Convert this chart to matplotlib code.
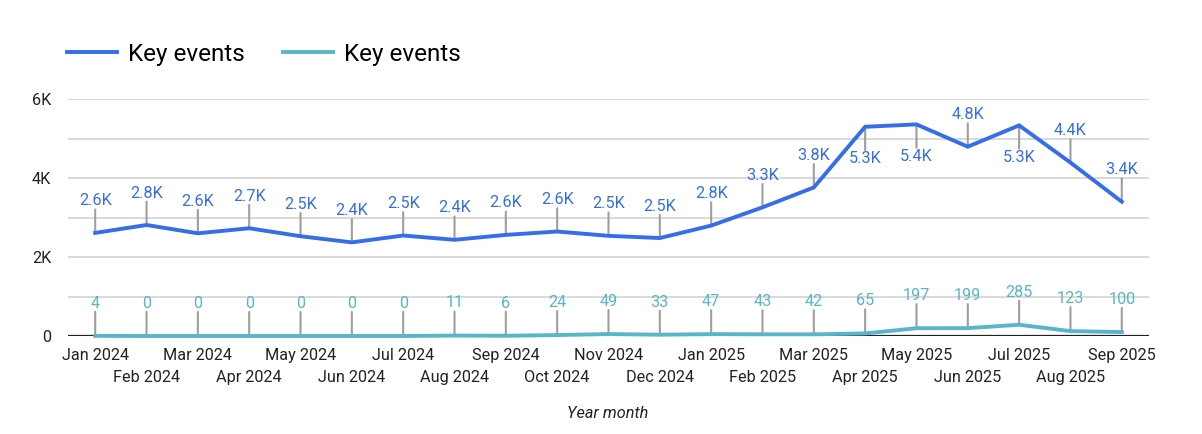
import matplotlib
matplotlib.use("Agg")
import matplotlib.pyplot as plt
from matplotlib.ticker import FixedLocator

plt.rcParams['font.family'] = ['Roboto', 'DejaVu Sans']

months = ["Jan 2024", "Feb 2024", "Mar 2024", "Apr 2024", "May 2024", "Jun 2024",
          "Jul 2024", "Aug 2024", "Sep 2024", "Oct 2024", "Nov 2024", "Dec 2024",
          "Jan 2025", "Feb 2025", "Mar 2025", "Apr 2025", "May 2025", "Jun 2025",
          "Jul 2025", "Aug 2025", "Sep 2025"]
key_events_a = [2610, 2810, 2600, 2728, 2526, 2370, 2544, 2435, 2560, 2645, 2536,
                2480, 2795, 3257, 3761, 5297, 5357, 4793, 5332, 4390, 3400]
key_events_b = [4, 0, 0, 0, 0, 0, 0, 11, 6, 24, 49, 33, 47, 43, 42, 65, 197,
                199, 285, 123, 100]
below_labels_a = ["Apr 2025", "May 2025", "Jul 2025"]
series_names = ["Key events", "Key events"]
y_ticks = [0, 2000, 4000, 6000]
y_tick_labels = ["0", "2K", "4K", "6K"]

BLUE = "#356ee8"
TEAL = "#58b5ca"
LEADER = "#9e9e9e"
GRID = "#d3d3d3"
FS = 11.7

W, H = 1202, 434
fig = plt.figure(figsize=(W / 100, H / 100), dpi=100)
ax = fig.add_axes([68 / W, 1 - 336 / H, (1149 - 68) / W, (336 - 99) / H])

x = list(range(len(months)))
ax.set_xlim(-0.53, len(months) - 1 + 0.53)
ax.set_ylim(0, 6000)

for s in ax.spines.values():
    s.set_visible(False)

ax.yaxis.set_major_locator(FixedLocator(y_ticks))
ax.yaxis.set_minor_locator(FixedLocator([1000, 3000, 5000]))
ax.set_yticklabels(y_tick_labels)
ax.grid(axis='y', which='both', color=GRID, lw=1.2, zorder=0)
ax.tick_params(axis='y', which='both', length=0, pad=12, labelsize=FS, labelcolor='#222222')
ax.axhline(0, color='#222222', lw=1.6, zorder=2)

# x tick labels in two rows
ax.xaxis.set_major_locator(FixedLocator(x[0::2]))
ax.xaxis.set_minor_locator(FixedLocator(x[1::2]))
ax.set_xticklabels(months[0::2])
ax.set_xticklabels(months[1::2], minor=True)
ax.tick_params(axis='x', which='major', length=0, pad=8.5, labelsize=FS, labelcolor='#222222')
ax.tick_params(axis='x', which='minor', length=0, pad=24.5, labelsize=FS, labelcolor='#222222')

la, = ax.plot(x, key_events_a, color=BLUE, lw=2.8, zorder=5, solid_joinstyle='miter',
              clip_on=False, label=series_names[0])
lb, = ax.plot(x, key_events_b, color=TEAL, lw=2.8, zorder=4, clip_on=False,
              label=series_names[1])

def fmt_k(v):
    return f"{v / 1000:.1f}K"

for i, v in enumerate(key_events_a):
    sign = -1 if months[i] in below_labels_a else 1
    ax.annotate("", xy=(i, v), xytext=(0, sign * 16.8), textcoords='offset points',
                arrowprops=dict(arrowstyle='-', color=LEADER, lw=1.5, shrinkA=0, shrinkB=0),
                zorder=3, annotation_clip=False)
    ax.annotate(fmt_k(v), xy=(i, v), xytext=(0, sign * 23), textcoords='offset points',
                ha='center', va='center', color=BLUE, fontsize=FS, zorder=6,
                annotation_clip=False)

for i, v in enumerate(key_events_b):
    ax.annotate("", xy=(i, v), xytext=(0, 17.3), textcoords='offset points',
                arrowprops=dict(arrowstyle='-', color=LEADER, lw=1.5, shrinkA=0, shrinkB=0),
                zorder=3, annotation_clip=False)
    ax.annotate(str(v), xy=(i, v), xytext=(0, 23.5), textcoords='offset points',
                ha='center', va='center', color=TEAL, fontsize=FS, zorder=6,
                annotation_clip=False)

fig.text(608 / W, 1 - 413 / H, "Year month", ha='center', va='center',
         fontsize=FS, style='italic', color='#222222')

fig.legend(handles=[la, lb], loc='center left', bbox_to_anchor=(67 / W, 1 - 54 / H),
           ncol=2, frameon=False, fontsize=17.5, handlelength=2.05, handletextpad=0.45,
           columnspacing=1.6, borderaxespad=0, borderpad=0)

fig.savefig("out.png", dpi=100)
